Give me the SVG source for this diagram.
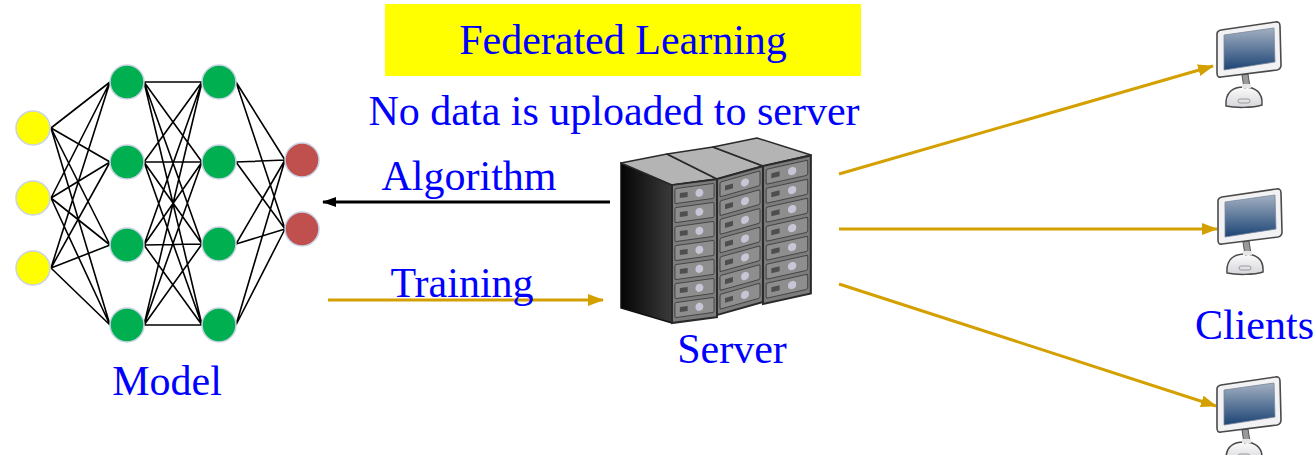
<svg xmlns="http://www.w3.org/2000/svg" xmlns:xlink="http://www.w3.org/1999/xlink" width="1315" height="455" viewBox="0 0 1315 455">
  <style>
    .lbl { font-family: "Liberation Serif", "Times New Roman", serif; font-size: 42px; fill: #0000FF; }
    .edge { stroke: #000; stroke-width: 1.6; fill: none; }
    .in { fill: #FFFF00; stroke: #c9d3e6; stroke-width: 1.5; }
    .hid { fill: #00B050; stroke: #c9d3e6; stroke-width: 1.5; }
    .out { fill: #C0504D; stroke: #c9d3e6; stroke-width: 1.5; }
    .gold { stroke: #D4A000; stroke-width: 3; fill: none; }
    .blk { stroke: #000; stroke-width: 3; fill: none; }
    .top { fill: #b4b4b4; stroke: #2a2a2a; stroke-width: 1.5; stroke-linejoin: round; }
    .front { fill: #7c7c7c; stroke: #2a2a2a; stroke-width: 2; }
    .drawer { fill: #8e8e8e; stroke: #454545; stroke-width: 1; }
    .led { fill: #4e4e4e; }
    .knob { fill: #c6c6d6; }
  </style>
  <defs>
    <marker id="headGold" viewBox="0 0 16 12" refX="15" refY="6" markerWidth="16" markerHeight="12" markerUnits="userSpaceOnUse" orient="auto">
      <path d="M0 0 L16 6 L0 12 z" fill="#D4A000"/>
    </marker>
    <marker id="headBlack" viewBox="0 0 14 10" refX="13" refY="5" markerWidth="14" markerHeight="10" markerUnits="userSpaceOnUse" orient="auto">
      <path d="M0 0 L14 5 L0 10 z" fill="#000"/>
    </marker>
    <linearGradient id="sideGrad" x1="0" y1="0" x2="1" y2="0">
      <stop offset="0" stop-color="#050505"/>
      <stop offset="1" stop-color="#3a3a3a"/>
    </linearGradient>
    <linearGradient id="screenGrad" x1="0" y1="0" x2="0" y2="1">
      <stop offset="0" stop-color="#a3b0c2"/>
      <stop offset="1" stop-color="#1c4475"/>
    </linearGradient>
    <linearGradient id="baseGrad" x1="0" y1="0" x2="0" y2="1">
      <stop offset="0" stop-color="#fbfbfb"/>
      <stop offset="1" stop-color="#d6d6dc"/>
    </linearGradient>
    <!-- one cabinet face: 7 drawers -->
    <g id="cabinet">
      <rect class="front" x="0" y="0" width="46" height="138"/>
      <g id="drawer">
        <rect class="drawer" x="3" y="4" width="40" height="15" rx="1.5"/>
        <rect class="led" x="8" y="9" width="8" height="5"/>
        <circle class="knob" cx="28" cy="11.5" r="4"/>
      </g>
      <use xlink:href="#drawer" y="19"/>
      <use xlink:href="#drawer" y="38"/>
      <use xlink:href="#drawer" y="57"/>
      <use xlink:href="#drawer" y="76"/>
      <use xlink:href="#drawer" y="95"/>
      <use xlink:href="#drawer" y="114"/>
    </g>
    <!-- desktop monitor, origin at bezel top-left -->
    <g id="monitor">
      <path d="M27 57 C16 57 8 62 9 76 C18 78 36 78 45 75 C46 62 38 57 27 57 Z" fill="url(#baseGrad)" stroke="#4a4a4a" stroke-width="1.5"/>
      <rect x="21" y="69" width="12" height="4" rx="2" fill="none" stroke="#9a9a9a" stroke-width="1"/>
      <path d="M25 45 L31 44 L33 57 L27 58 Z" fill="#9a9a9a" stroke="#555" stroke-width="1"/>
      <rect x="25" y="54" width="9" height="4" fill="#e6e6e6"/>
      <path d="M4 0 L58 -8 Q63 -9 63 -4 L64 35 Q64 39 60 40 L4 47 Q0 48 0 43 L0 4 Q0 1 4 0 Z" fill="#f2f2f4" stroke="#4a4a4a" stroke-width="1.6"/>
      <path d="M7 5 L57 -2 L58 32 L7 40 Z" fill="url(#screenGrad)" stroke="#7a8699" stroke-width="0.8"/>
    </g>
  </defs>

  <rect width="1315" height="455" fill="#fff"/>

  <!-- title -->
  <g id="title">
    <rect x="385" y="4" width="476" height="72" fill="#FFFF00"/>
    <text class="lbl" x="623" y="54" text-anchor="middle">Federated Learning</text>
  </g>
  <text class="lbl" x="614" y="125" text-anchor="middle">No data is uploaded to server</text>

  <!-- connectors -->
  <g id="connectors">
    <!-- neural network weights -->
    <path class="edge" d="M51 128L110 82M51 128L110 162M51 128L110 245M51 128L110 325
      M51 198L110 82M51 198L110 162M51 198L110 245M51 198L110 325
      M51 268L110 82M51 268L110 162M51 268L110 245M51 268L110 325"/>
    <path class="edge" d="M144 82L202 82M144 82L202 162M144 82L202 244M144 82L202 325
      M144 162L202 82M144 162L202 162M144 162L202 244M144 162L202 325
      M144 245L202 82M144 245L202 162M144 245L202 244M144 245L202 325
      M144 325L202 82M144 325L202 162M144 325L202 244M144 325L202 325"/>
    <path class="edge" d="M236 82L285 160M236 82L285 229M236 162L285 160M236 162L285 229
      M236 244L285 160M236 244L285 229M236 325L285 160M236 325L285 229"/>
    <!-- server to model -->
    <line class="blk" x1="610" y1="202" x2="323" y2="202" marker-end="url(#headBlack)"/>
    <!-- model to server -->
    <line class="gold" x1="328" y1="300" x2="603" y2="300" marker-end="url(#headGold)"/>
    <!-- server to clients -->
    <line class="gold" x1="839" y1="174" x2="1213" y2="66" marker-end="url(#headGold)"/>
    <line class="gold" x1="839" y1="229" x2="1217" y2="229" marker-end="url(#headGold)"/>
    <line class="gold" x1="839" y1="284" x2="1216" y2="406" marker-end="url(#headGold)"/>
  </g>

  <text class="lbl" x="469" y="190" text-anchor="middle">Algorithm</text>
  <text class="lbl" x="462" y="297" text-anchor="middle">Training</text>

  <!-- model network -->
  <g id="model">
    <circle class="in" cx="33" cy="128" r="17"/>
    <circle class="in" cx="33" cy="198" r="17"/>
    <circle class="in" cx="33" cy="268" r="17"/>
    <circle class="hid" cx="127" cy="82" r="17"/>
    <circle class="hid" cx="127" cy="162" r="17"/>
    <circle class="hid" cx="127" cy="245" r="17"/>
    <circle class="hid" cx="127" cy="325" r="17"/>
    <circle class="hid" cx="219" cy="82" r="17"/>
    <circle class="hid" cx="219" cy="162" r="17"/>
    <circle class="hid" cx="219" cy="244" r="17"/>
    <circle class="hid" cx="219" cy="325" r="17"/>
    <circle class="out" cx="302" cy="160" r="17"/>
    <circle class="out" cx="302" cy="229" r="17"/>
    <text class="lbl" x="167" y="395" text-anchor="middle">Model</text>
  </g>

  <!-- server rack -->
  <g id="server">
    <path d="M621 163 L672 185 L672 323 L621 308 Z" fill="url(#sideGrad)" stroke="#111" stroke-width="1.5"/>
    <path class="top" d="M621 163 L667 154 L717 179 L672 185 Z"/>
    <path class="top" d="M667 154 L713 147 L763 166 L717 179 Z"/>
    <path class="top" d="M713 147 L757 138 L811 155 L763 166 Z"/>
    <use xlink:href="#cabinet" transform="matrix(0.978,-0.13,0,1,672,185)"/>
    <use xlink:href="#cabinet" transform="matrix(1,-0.28,0,0.985,717,179)"/>
    <use xlink:href="#cabinet" transform="matrix(1.04,-0.23,0,1,763,166)"/>
    <text class="lbl" x="732" y="363" text-anchor="middle">Server</text>
  </g>

  <!-- clients -->
  <g id="client1"><use xlink:href="#monitor" x="1217" y="30"/></g>
  <g id="client2"><use xlink:href="#monitor" x="1218" y="197"/></g>
  <g id="client3"><use xlink:href="#monitor" x="1217" y="385"/></g>
  <text class="lbl" x="1195" y="339">Clients</text>
</svg>
